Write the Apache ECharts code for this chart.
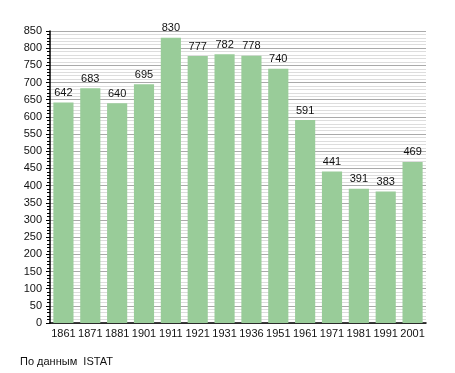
<!DOCTYPE html>
<html><head><meta charset="utf-8">
<script src="https://cdn.jsdelivr.net/npm/echarts@6/dist/echarts.min.js"></script>
<style>html,body{margin:0;padding:0;background:#fff}#c{width:455px;height:373px}</style>
</head><body><div id="c"></div>
<script>
const years = ['1861','1871','1881','1901','1911','1921','1931','1936','1951','1961','1971','1981','1991','2001'];
const population = [642,683,640,695,830,777,782,778,740,591,441,391,383,469];
const yTicks = {min:0, max:850, interval:50};
const chart = echarts.init(document.getElementById('c'), null, {renderer:'canvas'});
chart.setOption({
  animation:false,
  grid:{left:50,right:29,top:31,bottom:50},
  graphic:[{type:'text',left:20,top:356,style:{text:'По данным  ISTAT',font:'11px "Liberation Sans", Arial, sans-serif',fill:'#111'}}],
  xAxis:{type:'category',data:years,
    axisLine:{lineStyle:{color:'#000',width:1.5}},
    axisTick:{show:false},
    axisLabel:{color:'#111',fontSize:11,fontFamily:'"Liberation Sans", Arial, sans-serif',margin:5,interval:0}
  },
  yAxis:{type:'value',min:yTicks.min,max:yTicks.max,interval:yTicks.interval,
    axisLine:{show:true,lineStyle:{color:'#000',width:1.5}},
    axisTick:{show:true,length:4,lineStyle:{color:'#000'}},
    minorTick:{show:true,splitNumber:5,length:3,lineStyle:{color:'#000'}},
    splitLine:{show:true,lineStyle:{color:'#aaa',width:1}},
    minorSplitLine:{show:true,lineStyle:{color:'#ddd',width:1}},
    axisLabel:{color:'#111',fontSize:11,fontFamily:'"Liberation Sans", Arial, sans-serif',margin:8}
  },
  series:[{type:'bar',data:population,barCategoryGap:'25%',
    itemStyle:{color:'#99cc99'},
    label:{show:true,position:'top',distance:4,color:'#111',fontSize:11,fontFamily:'"Liberation Sans", Arial, sans-serif'}
  }]
});
</script></body></html>
